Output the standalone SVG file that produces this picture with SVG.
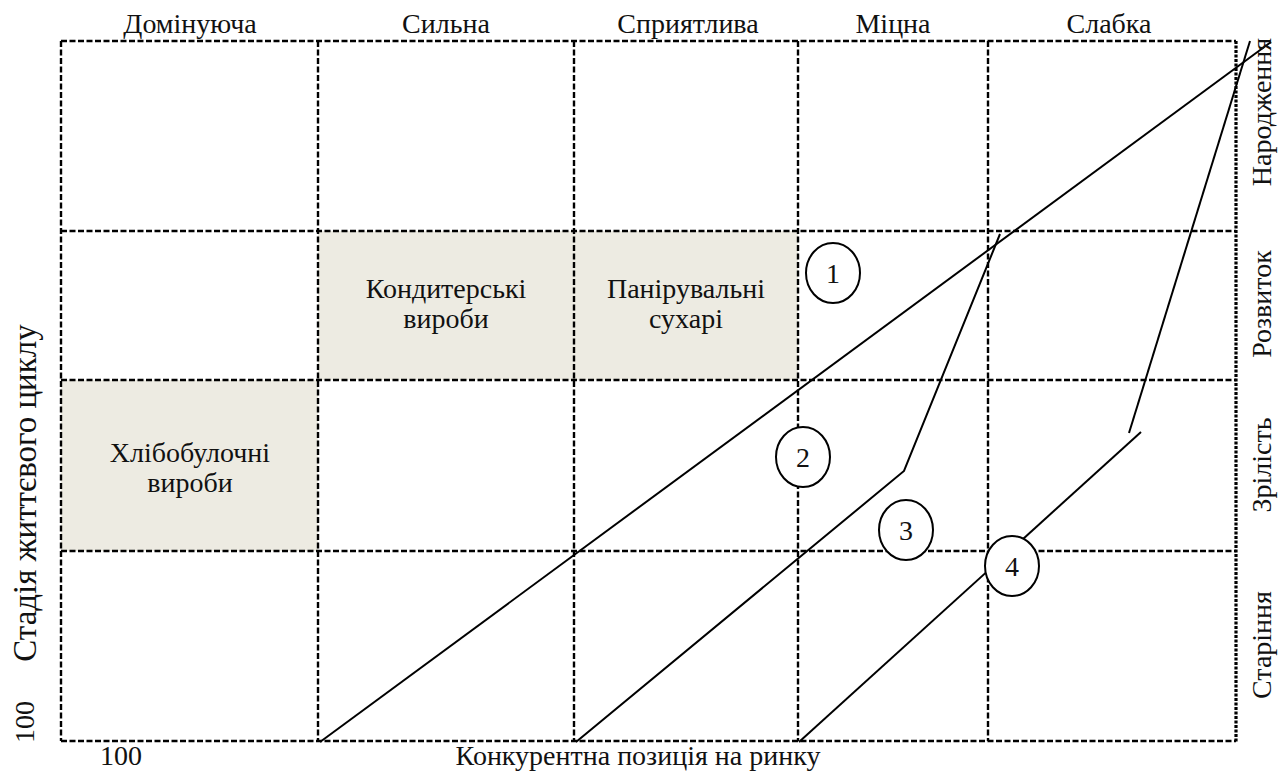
<svg xmlns="http://www.w3.org/2000/svg" width="1278" height="771" viewBox="0 0 1278 771">
  <style>
    text { font-family: "Liberation Serif", "Times New Roman", serif; font-size: 28px; fill: #111; }
    .mid { text-anchor: middle; }
    .big { font-size: 33px; }
    .grid { stroke: #000; stroke-width: 2.4; stroke-dasharray: 6 2.5; fill: none; }
    .edge { stroke: #000; stroke-width: 3.2; stroke-dasharray: 3 1.5; fill: none; }
    .cell { fill: #edebe2; }
    .trend { stroke: #000; stroke-width: 2; fill: none; stroke-linejoin: miter; }
    .badge { fill: #fff; stroke: #000; stroke-width: 2; }
  </style>

  <!-- shaded product cells -->
  <g id="cell-confectionery">
    <rect class="cell" x="318" y="231" width="256" height="149"/>
    <text class="mid" x="446" y="298">Кондитерські</text>
    <text class="mid" x="446" y="328">вироби</text>
  </g>
  <g id="cell-breadcrumbs">
    <rect class="cell" x="574" y="231" width="224" height="149"/>
    <text class="mid" x="686" y="298">Панірувальні</text>
    <text class="mid" x="686" y="328">сухарі</text>
  </g>
  <g id="cell-bakery">
    <rect class="cell" x="61" y="380" width="257" height="171"/>
    <text class="mid" x="190" y="462">Хлібобулочні</text>
    <text class="mid" x="190" y="492">вироби</text>
  </g>

  <!-- matrix grid -->
  <g id="grid">
    <line class="grid" x1="61" y1="41" x2="1236" y2="41"/>
    <line class="grid" x1="61" y1="231" x2="1236" y2="231"/>
    <line class="grid" x1="61" y1="380" x2="1236" y2="380"/>
    <line class="grid" x1="61" y1="551" x2="1236" y2="551"/>
    <line class="grid" x1="61" y1="741" x2="1236" y2="741"/>
    <line class="grid" x1="61" y1="41" x2="61" y2="741"/>
    <line class="grid" x1="318" y1="41" x2="318" y2="741"/>
    <line class="grid" x1="574" y1="41" x2="574" y2="741"/>
    <line class="grid" x1="798" y1="41" x2="798" y2="741"/>
    <line class="grid" x1="988" y1="41" x2="988" y2="741"/>
    <line class="edge" x1="1236" y1="41" x2="1236" y2="742"/>
  </g>

  <!-- strategy boundary lines -->
  <g id="connectors">
    <line class="trend" x1="320" y1="742" x2="1271" y2="42"/>
    <polyline class="trend" points="576,742 904,471 1000,234"/>
    <line class="trend" x1="1250" y1="41" x2="1129" y2="433"/>
    <line class="trend" x1="799" y1="742" x2="1141" y2="432"/>
  </g>

  <!-- zone markers -->
  <g id="zone-1">
    <ellipse class="badge" cx="833" cy="273" rx="27" ry="30"/>
    <text class="mid" x="833" y="283">1</text>
  </g>
  <g id="zone-2">
    <ellipse class="badge" cx="803" cy="457" rx="27" ry="30"/>
    <text class="mid" x="803" y="467">2</text>
  </g>
  <g id="zone-3">
    <ellipse class="badge" cx="906" cy="530" rx="27" ry="30"/>
    <text class="mid" x="906" y="540">3</text>
  </g>
  <g id="zone-4">
    <ellipse class="badge" cx="1012" cy="566" rx="27" ry="30"/>
    <text class="mid" x="1012" y="576">4</text>
  </g>

  <!-- column headings: competitive position -->
  <g id="col-labels">
    <text class="mid" x="190" y="33">Домінуюча</text>
    <text class="mid" x="446" y="33">Сильна</text>
    <text class="mid" x="688" y="33">Сприятлива</text>
    <text class="mid" x="893" y="33">Міцна</text>
    <text class="mid" x="1109" y="33">Слабка</text>
  </g>

  <!-- row headings: life cycle stage -->
  <g id="row-labels">
    <text class="mid" transform="translate(1271 112) rotate(-90)">Народження</text>
    <text class="mid" transform="translate(1271 304) rotate(-90)">Розвиток</text>
    <text class="mid" transform="translate(1271 465) rotate(-90)">Зрілість</text>
    <text class="mid" transform="translate(1271 645) rotate(-90)">Старіння</text>
  </g>

  <!-- axis titles -->
  <g id="axis-labels">
    <text class="mid big" transform="translate(36 493) rotate(-90)">Стадія життєвого циклу</text>
    <text class="mid" transform="translate(34 722) rotate(-90)">100</text>
    <text x="100" y="765">100</text>
    <text class="mid" x="638" y="765">Конкурентна позиція на ринку</text>
  </g>
</svg>
